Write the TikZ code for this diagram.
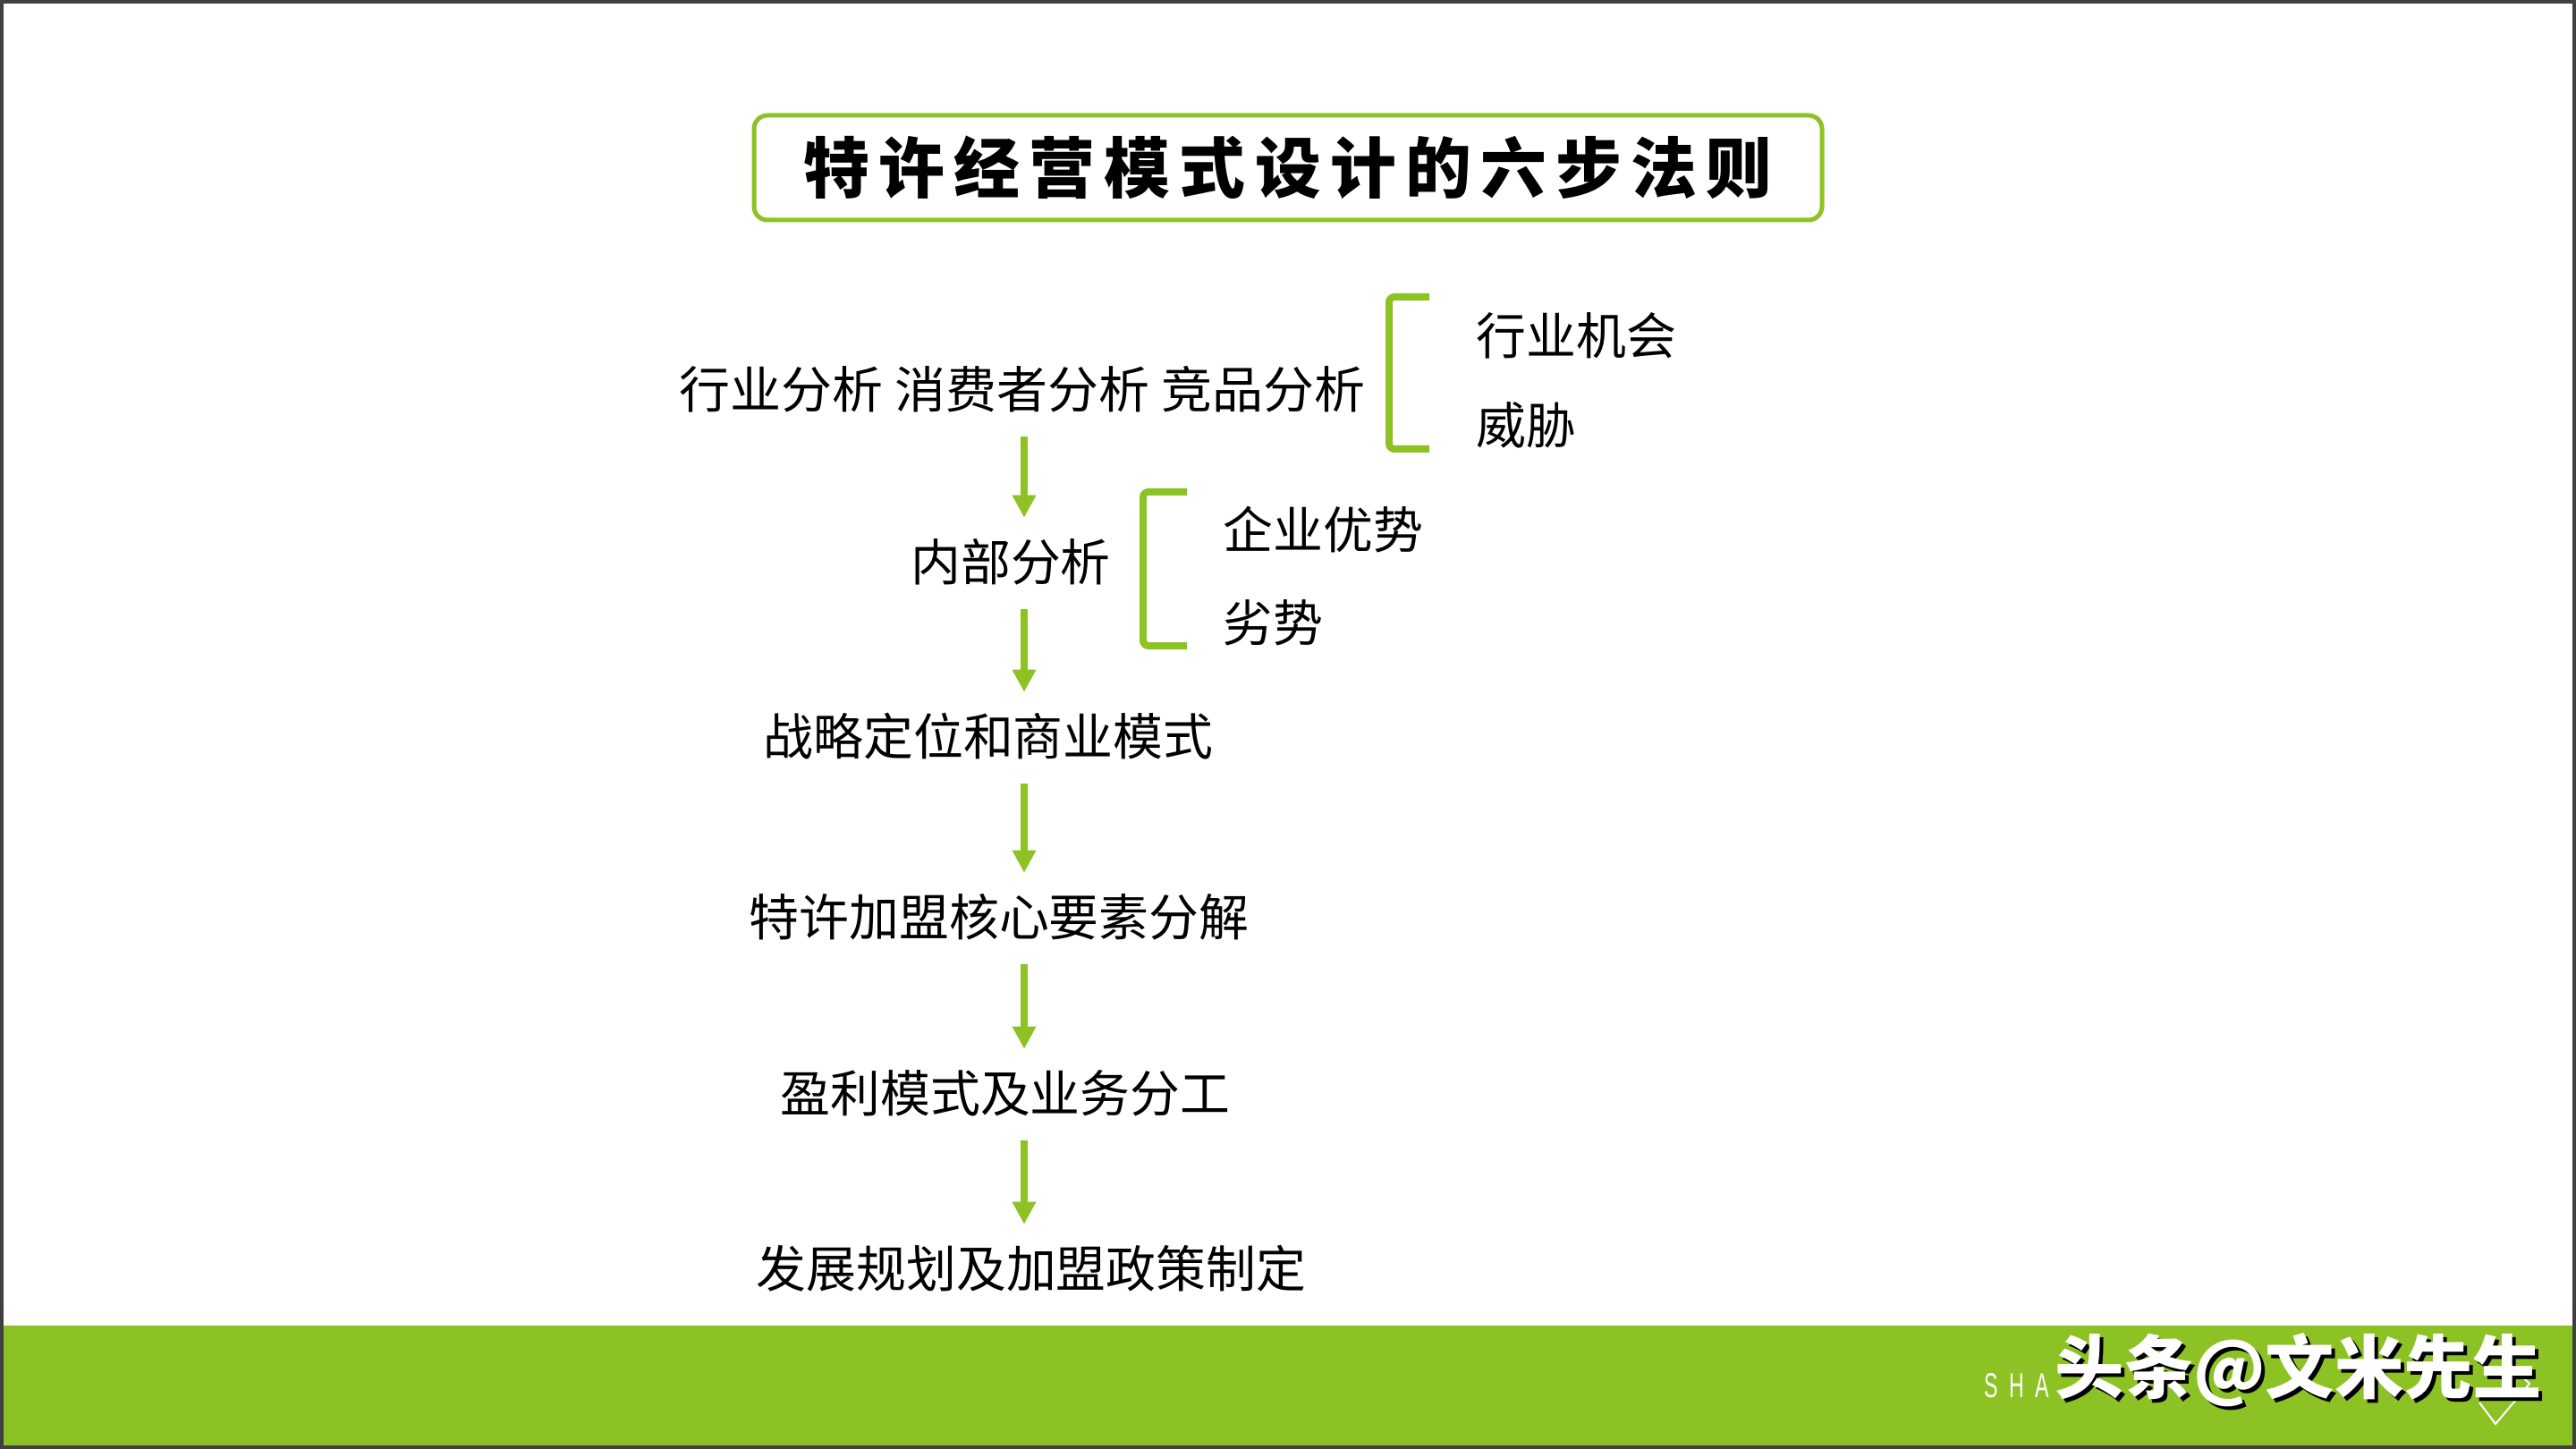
\documentclass[tikz,border=0pt]{standalone}
\usepackage{fontspec}
\setmainfont{Noto Sans CJK SC}
\newfontfamily\latinfont{Liberation Sans}
\usepackage{xcolor}
\usepackage{tikz}
\usetikzlibrary{arrows.meta, positioning}
\definecolor{leafgreen}{RGB}{141,194,36}

\begin{document}
\begin{tikzpicture}[
    flowtext/.style={inner sep=0pt, font=\fontsize{15.9}{18}\selectfont, text height=0.86em, text depth=0.14em},
    titlebox/.style={draw=leafgreen, line width=0.05cm, rounded corners=0.15cm, minimum width=11.94cm, minimum height=1.17cm, inner sep=0pt, font=\fontsize{21}{24}\selectfont\bfseries\addfontfeature{LetterSpace=14}},
    flowarrow/.style={draw=leafgreen, line width=0.08cm, -{Triangle[width=0.25cm,length=0.25cm]}, shorten <=0.26cm, shorten >=0.40cm},
    bracket/.style={draw=leafgreen, line width=0.08cm, rounded corners=0.06cm},
    wmtext/.style={inner sep=0pt, font=\fontsize{22}{24}\selectfont\bfseries}]

    \useasboundingbox (0,0) rectangle (28.8,-16.2);

    % Title
    \node [titlebox] (title) at (14.40,-1.875) {特许经营模式设计的六步法则};

    % Steps
    \node [flowtext, xscale=1.02, transform shape] (outside) at (11.43,-4.44) {行业分析 消费者分析 竞品分析};
    \node [flowtext] (inside) at (11.30,-6.37) {内部分析};
    \node [flowtext] (strategy) at (11.05,-8.32) {战略定位和商业模式};
    \node [flowtext] (core) at (11.17,-10.34) {特许加盟核心要素分解};
    \node [flowtext] (profit) at (11.24,-12.31) {盈利模式及业务分工};
    \node [flowtext] (plan) at (11.53,-14.27) {发展规划及加盟政策制定};

    % Side notes
    \node [flowtext, anchor=west] (chance) at (16.50,-3.84) {行业机会};
    \node [flowtext, anchor=west] (threat) at (16.50,-4.84) {威胁};
    \node [flowtext, anchor=west] (strength) at (13.67,-6.01) {企业优势};
    \node [flowtext, anchor=west] (weakness) at (13.67,-7.05) {劣势};

    % Brackets
    \draw [bracket] (15.98,-3.32) -- (15.53,-3.32) -- (15.53,-5.02) -- (15.98,-5.02);
    \draw [bracket] (13.27,-5.50) -- (12.78,-5.50) -- (12.78,-7.22) -- (13.27,-7.22);

    % Arrows
    \coordinate (axis) at (11.45,0);
    \draw [flowarrow] (outside.south -| axis) -- (inside.north -| axis);
    \draw [flowarrow] (inside.south -| axis) -- (strategy.north -| axis);
    \draw [flowarrow] (strategy.south -| axis) -- (core.north -| axis);
    \draw [flowarrow] (core.south -| axis) -- (profit.north -| axis);
    \draw [flowarrow] (profit.south -| axis) -- (plan.north -| axis);

    % Footer
    \fill [leafgreen] (0,-14.82) rectangle (28.8,-16.2);
    \node [anchor=base west, inner sep=0pt, text=white, xscale=0.6, transform shape,
        font=\latinfont\fontsize{11}{12}\selectfont\addfontfeature{LetterSpace=53}] (brand) at (22.18,-15.62) {SHA};
    \draw [white, line width=0.02cm] (27.72,-15.68) -- (27.90,-15.92) -- (28.28,-15.47) -- (28.08,-15.27);
    \node [wmtext, text=black] (wmshadow) at (25.74,-15.36) {头条@文米先生};
    \node [wmtext, text=white] (wm) at (25.70,-15.32) {头条@文米先生};

    % Frame
    \draw [black!75, line width=0.04cm] (0.02,-0.02) rectangle (28.78,-16.18);
\end{tikzpicture}
\end{document}
